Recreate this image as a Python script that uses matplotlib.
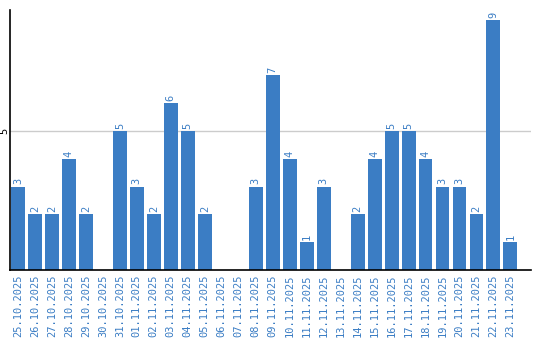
import matplotlib
matplotlib.use("Agg")
import matplotlib.pyplot as plt

dates = ["25.10.2025", "26.10.2025", "27.10.2025", "28.10.2025", "29.10.2025",
         "30.10.2025", "31.10.2025", "01.11.2025", "02.11.2025", "03.11.2025",
         "04.11.2025", "05.11.2025", "06.11.2025", "07.11.2025", "08.11.2025",
         "09.11.2025", "10.11.2025", "11.11.2025", "12.11.2025", "13.11.2025",
         "14.11.2025", "15.11.2025", "16.11.2025", "17.11.2025", "18.11.2025",
         "19.11.2025", "20.11.2025", "21.11.2025", "22.11.2025", "23.11.2025"]
values = [3, 2, 2, 4, 2, 0, 5, 3, 2, 6, 5, 2, 0, 0, 3, 7, 4, 1, 3, 0,
          2, 4, 5, 5, 4, 3, 3, 2, 9, 1]

bar_color = "#3b7dc4"
text_color = "#3b7dc4"
font = "DejaVu Sans Mono"

fig = plt.figure(figsize=(5.4, 3.4), dpi=100)
ax = fig.add_axes([0.0194, 0.206, 0.9636, 0.764])

x = list(range(len(values)))
ax.bar(x, values, width=0.82, color=bar_color, zorder=2)

for xi, v in zip(x, values):
    if v > 0:
        ax.text(xi, v + 0.08, str(v), rotation=90, ha="center", va="bottom",
                color=text_color, fontsize=7.5, family=font)

ax.set_xlim(-0.44, 30.2)
ax.set_ylim(0, 9.35)
ax.set_yticks([5])
ax.set_yticklabels(["5"], rotation=90, va="center", fontsize=7.5, family=font, color="black")
ax.yaxis.grid(True, color="#cccccc", linewidth=1, zorder=0)
ax.tick_params(axis="y", length=0, pad=1)

ax.set_xticks(x)
ax.set_xticklabels(dates, rotation=90, fontsize=7.5, family=font, color=text_color)
ax.tick_params(axis="x", length=0, pad=3)

for s in ["top", "right"]:
    ax.spines[s].set_visible(False)
ax.spines["left"].set_linewidth(1.2)
ax.spines["bottom"].set_linewidth(1.2)

fig.savefig("out.png", dpi=100)
